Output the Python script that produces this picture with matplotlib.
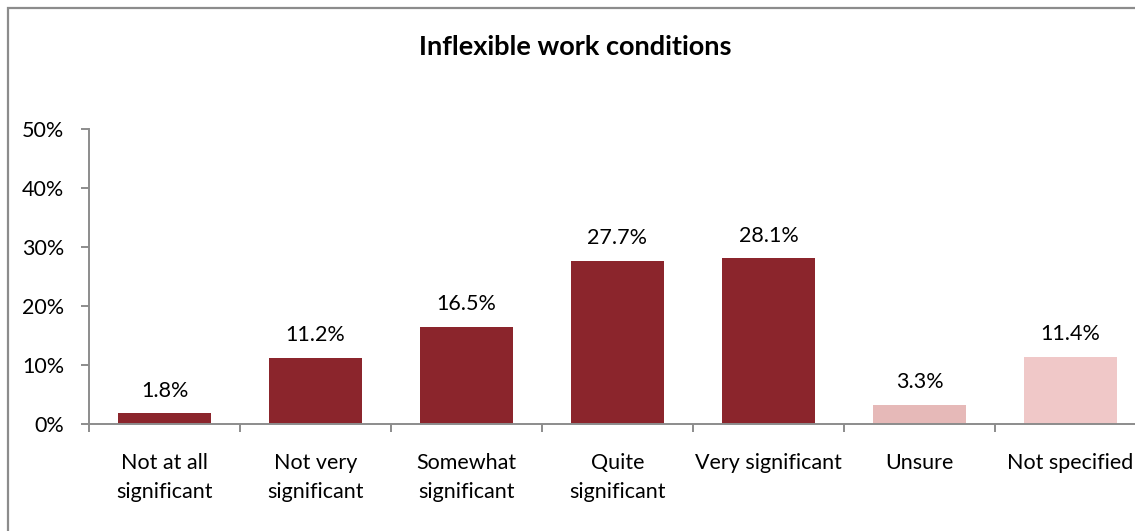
import matplotlib
matplotlib.use("Agg")
import matplotlib.pyplot as plt
from matplotlib.patches import Rectangle
import numpy as np

categories = ["Not at all\nsignificant", "Not very\nsignificant", "Somewhat\nsignificant",
              "Quite\nsignificant", "Very significant", "Unsure", "Not specified"]
values = [1.8, 11.2, 16.5, 27.7, 28.1, 3.3, 11.4]
value_labels = ["1.8%", "11.2%", "16.5%", "27.7%", "28.1%", "3.3%", "11.4%"]
colors = ["#8B252C"] * 5 + ["#E6B9B8", "#F0C8C8"]
ytick_values = [0, 10, 20, 30, 40, 50]
ytick_labels = ["0%", "10%", "20%", "30%", "40%", "50%"]
title = "Inflexible work conditions"

plt.rcParams['font.family'] = ['Lato', 'DejaVu Sans']
W, H = 1135, 531
fig = plt.figure(figsize=(W / 100, H / 100), dpi=100)

# outer border
fig.patches.append(Rectangle((8 / W, -0.05), 1.2, 1 - 8 / H + 0.05, transform=fig.transFigure,
                             fill=False, edgecolor="#8C8C8C", linewidth=1.6))

ax = fig.add_axes([89 / W, 107 / H, 1057 / W, 295 / H])
x = np.arange(len(categories))
ax.bar(x, values, width=0.62, color=colors, zorder=2)
ax.set_xlim(-0.5, len(categories) - 0.5)
ax.set_ylim(0, 50)

gray = "#8C8C8C"
for s in ["top", "right"]:
    ax.spines[s].set_visible(False)
for s in ["left", "bottom"]:
    ax.spines[s].set_color(gray)
    ax.spines[s].set_linewidth(1.4)

ax.set_yticks(ytick_values)
ax.set_yticklabels(ytick_labels, fontsize=15.5, color="#000000")
ax.tick_params(axis="y", length=6, width=1.4, color=gray, pad=12)

ax.set_xticks(x)
ax.set_xticklabels(categories, fontsize=15.5, linespacing=1.55)
ax.tick_params(axis="x", which="major", length=0, pad=21)
ax.set_xticks(np.arange(len(categories) + 1) - 0.5, minor=True)
ax.tick_params(axis="x", which="minor", length=6, width=1.4, color=gray)

for xi, v, lab in zip(x, values, value_labels):
    ax.annotate(lab, (xi, v), xytext=(0, 9), textcoords="offset points",
                ha="center", va="bottom", fontsize=15.5)

fig.text(575 / W, 1 - 47 / H, title, ha="center", va="center", fontsize=19.5, fontweight="bold")

fig.savefig("out.png", dpi=100)
